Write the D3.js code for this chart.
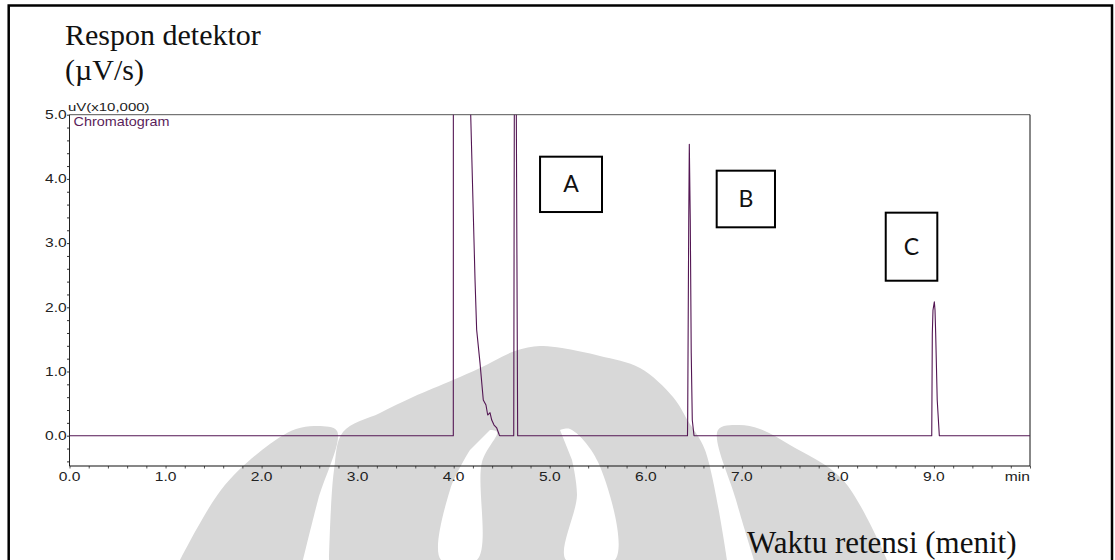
<!DOCTYPE html>
<html>
<head>
<meta charset="utf-8">
<script src="https://cdn.jsdelivr.net/npm/d3@7"></script>
<style>
  html, body { margin: 0; padding: 0; background: #fff; }
  svg { display: block; }
</style>
</head>
<body>
<svg id="chart" width="1115" height="560"></svg>
<script>
// Chromatogram trace: retention time (min) and detector response (uV x 10,000)
const retentionTime = [
  0.000, 3.994, 3.996, 3.999, 4.100, 4.177, 4.222, 4.239, 4.274, 4.308,
  4.336, 4.354, 4.378, 4.396, 4.420, 4.448, 4.475, 4.480, 4.625, 4.631,
  4.640, 4.652, 4.666, 6.434, 6.436, 6.447, 6.453, 6.463, 6.473, 6.484,
  6.502, 8.977, 8.983, 8.990, 9.004, 9.011, 9.018, 9.034, 9.056, 10.000
];
const response = [
  0.000, 0.000, 0.000, 40.00, 9.500, 5.000, 2.430, 1.650, 1.130, 0.556,
  0.478, 0.322, 0.358, 0.244, 0.166, 0.120, 0.010, 0.000, 0.000, 5.000,
  7.500, 5.000, 0.000, 0.000, 0.245, 3.360, 4.540, 3.360, 1.290, 0.245,
  0.000, 0.000, 1.590, 1.957, 2.087, 1.957, 1.590, 0.556, 0.000, 0.000
];

// Axis ticks and their labels
const xTickValues = [0, 1, 2, 3, 4, 5, 6, 7, 8, 9, 10];
const xTickLabels = ["0.0", "1.0", "2.0", "3.0", "4.0", "5.0", "6.0", "7.0", "8.0", "9.0", "min"];
const yTickValues = [0, 1, 2, 3, 4, 5];
const yTickLabels = ["0.0", "1.0", "2.0", "3.0", "4.0", "5.0"];

// Peak markers
const peakNames = ["A", "B", "C"];

const svg = d3.select("#chart");
const W = 1115, H = 560;
const plot = { left: 69.5, right: 1030, top: 114.7, bottom: 466 };

const x = d3.scaleLinear().domain([0, 10]).range([plot.left, plot.right]);
const y = d3.scaleLinear().domain([-0.472, 5]).range([plot.bottom, plot.top]);

const lineColor = "#531653";
const hstretch = 1.27;  // the instrument printout text is horizontally widened

// ---- faint university emblem in the page background ----
const outline = d3.line().curve(d3.curveCatmullRom.alpha(0.5));
const mark = svg.append("g").attr("fill", "#d8d8d8");
// central dome
mark.append("path").attr("d", outline([
  [329, 560], [334, 470], [343, 432], [380, 413], [413, 397], [453, 380],
  [480, 368], [515, 351], [540, 346], [562, 348], [600, 356], [640, 368],
  [673, 397], [688, 421], [705, 450], [727, 560]
]) + "Z");
// left arm
mark.append("path").attr("d", outline([
  [180, 560], [221, 490], [262, 450], [296, 429], [318, 426], [337, 431],
  [318, 500], [303, 560]
]) + "Z");
// right arm
mark.append("path").attr("d", outline([
  [887, 560], [843, 480], [790, 445], [760, 429], [738, 425], [718, 430],
  [736, 500], [754, 560]
]) + "Z");
// white gaps inside the dome
const markGaps = svg.append("g").attr("fill", "#ffffff");
markGaps.append("path").attr("d", outline([
  [490, 430], [497, 432], [482, 462], [477, 560], [441, 560], [450, 490], [470, 450]
]) + "Z");
markGaps.append("path").attr("d", outline([
  [560, 430], [570, 429], [598, 462], [615, 560], [566, 560], [577, 495], [572, 460]
]) + "Z");

// ---- outer page frame ----
svg.append("rect")
  .attr("x", 8.7).attr("y", 5.5)
  .attr("width", 1112 - 8.7).attr("height", H + 20)
  .attr("fill", "none").attr("stroke", "#000").attr("stroke-width", 2.5);

// ---- title texts ----
svg.append("text").attr("x", 65).attr("y", 45)
  .attr("font-family", "Liberation Serif, Times New Roman, serif")
  .attr("font-size", 30).attr("fill", "#111")
  .text("Respon detektor");
svg.append("text").attr("x", 65).attr("y", 80)
  .attr("font-family", "Liberation Serif, Times New Roman, serif")
  .attr("font-size", 30).attr("fill", "#111")
  .text("(\u00b5V/s)");
svg.append("text").attr("x", 747).attr("y", 553)
  .attr("font-family", "Liberation Serif, Times New Roman, serif")
  .attr("font-size", 31).attr("fill", "#111")
  .text("Waktu retensi (menit)");

// ---- axes ----
const minorY = d3.range(-0.4, 5.001, 0.2);
const minorX = d3.range(0, 10.001, 0.2);

svg.append("g")
  .attr("transform", `translate(${plot.left},0)`)
  .call(d3.axisLeft(y).tickValues(minorY).tickSize(2.5).tickFormat(""))
  .call(g => g.select(".domain").remove())
  .call(g => g.selectAll("line").attr("stroke", "#333"));

svg.append("g")
  .attr("transform", `translate(0,${plot.bottom})`)
  .call(d3.axisBottom(x).tickValues(minorX).tickSize(2.5).tickFormat(""))
  .call(g => g.select(".domain").remove())
  .call(g => g.selectAll("line").attr("stroke", "#555"));

// frame lines
svg.append("line").attr("x1", plot.left).attr("x2", plot.right)
  .attr("y1", plot.top).attr("y2", plot.top)
  .attr("stroke", "#555").attr("stroke-width", 1);
svg.append("line").attr("x1", plot.right).attr("x2", plot.right)
  .attr("y1", plot.top).attr("y2", plot.bottom)
  .attr("stroke", "#111").attr("stroke-width", 1);
svg.append("line").attr("x1", plot.left).attr("x2", plot.left)
  .attr("y1", plot.top).attr("y2", plot.bottom)
  .attr("stroke", "#222").attr("stroke-width", 1);
svg.append("line").attr("x1", plot.left).attr("x2", plot.right)
  .attr("y1", plot.bottom).attr("y2", plot.bottom)
  .attr("stroke", "#111").attr("stroke-width", 1.2);

// tick labels (printout font, widened)
const tickFont = "Liberation Sans, Arial, sans-serif";
svg.append("g").selectAll("text")
  .data(yTickValues)
  .join("text")
  .attr("transform", d => `translate(${plot.left - 2.8},${y(d) + 4.3}) scale(${hstretch},1)`)
  .attr("text-anchor", "end")
  .attr("font-family", tickFont).attr("font-size", 12.3).attr("fill", "#222")
  .text((d, i) => yTickLabels[i]);

svg.append("g").selectAll("text")
  .data(xTickValues)
  .join("text")
  .attr("transform", d => `translate(${x(d)},${plot.bottom + 14.5}) scale(${hstretch},1)`)
  .attr("text-anchor", (d, i) => i === xTickValues.length - 1 ? "end" : "middle")
  .attr("font-family", tickFont).attr("font-size", 12.3).attr("fill", "#222")
  .text((d, i) => xTickLabels[i]);

svg.append("text")
  .attr("transform", `translate(${plot.left - 1.5},${plot.top - 3.5}) scale(${hstretch},1)`)
  .attr("font-family", tickFont).attr("font-size", 11.8).attr("fill", "#222")
  .text("uV(x10,000)");
svg.append("text")
  .attr("transform", `translate(${plot.left + 4},${plot.top + 11.5}) scale(1.2,1)`)
  .attr("font-family", tickFont).attr("font-size", 12).attr("fill", "#5a1e5a")
  .text("Chromatogram");

// ---- chromatogram trace ----
svg.append("clipPath").attr("id", "plotClip")
  .append("rect")
  .attr("x", plot.left).attr("y", plot.top)
  .attr("width", plot.right - plot.left).attr("height", plot.bottom - plot.top);

const trace = d3.line()
  .x(i => x(retentionTime[i]))
  .y(i => y(response[i]));

svg.append("path")
  .attr("clip-path", "url(#plotClip)")
  .attr("d", trace(d3.range(retentionTime.length)))
  .attr("fill", "none")
  .attr("stroke", lineColor)
  .attr("stroke-width", 1.1)
  .attr("stroke-linejoin", "round");

// ---- peak marker boxes (placed in data coordinates) ----
const peakBoxes = [
  { t0: 4.899, t1: 5.544, v0: 4.346, v1: 3.484 },
  { t0: 6.738, t1: 7.345, v0: 4.128, v1: 3.246 },
  { t0: 8.498, t1: 9.035, v0: 3.474, v1: 2.414 }
];
const boxes = svg.append("g").selectAll("g")
  .data(peakNames)
  .join("g");
boxes.append("rect")
  .attr("x", (d, i) => x(peakBoxes[i].t0))
  .attr("y", (d, i) => y(peakBoxes[i].v0))
  .attr("width", (d, i) => x(peakBoxes[i].t1) - x(peakBoxes[i].t0))
  .attr("height", (d, i) => y(peakBoxes[i].v1) - y(peakBoxes[i].v0))
  .attr("fill", "#fff").attr("stroke", "#000").attr("stroke-width", 2);
boxes.append("text")
  .attr("x", (d, i) => (x(peakBoxes[i].t0) + x(peakBoxes[i].t1)) / 2)
  .attr("y", (d, i) => (y(peakBoxes[i].v0) + y(peakBoxes[i].v1)) / 2 + 8)
  .attr("text-anchor", "middle")
  .attr("font-family", "Lato, Carlito, Calibri, sans-serif")
  .attr("font-size", 23).attr("fill", "#111")
  .text(d => d);
</script>
</body>
</html>
